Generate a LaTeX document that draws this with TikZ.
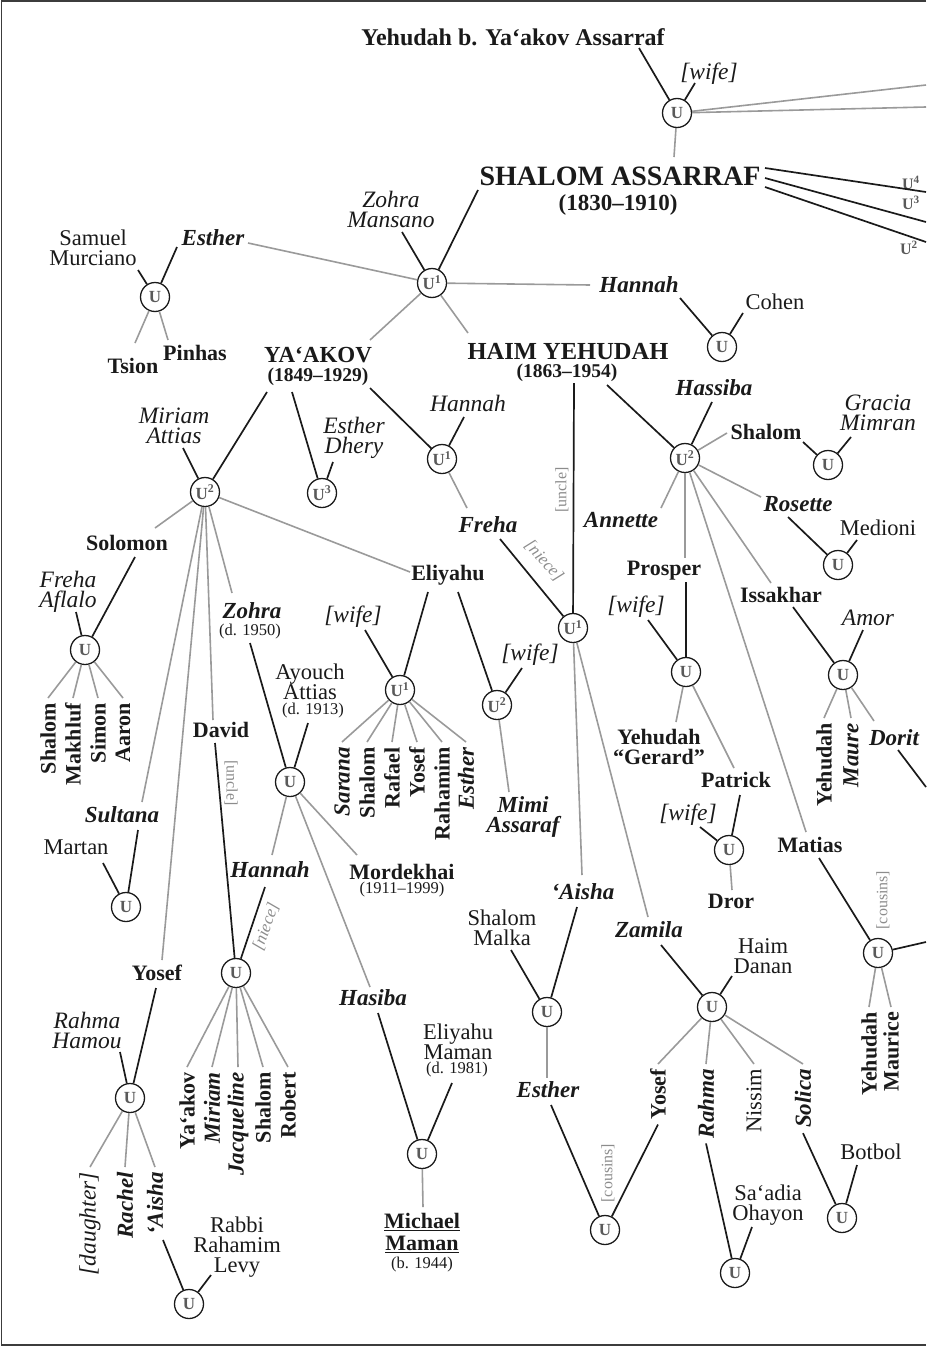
\documentclass[tikz,border=0pt]{standalone}
\usepackage{fontspec}
\setmainfont{Liberation Serif}
\usetikzlibrary{calc}
\definecolor{lgray}{HTML}{9A9A9A}
\definecolor{ugray}{HTML}{5A5A5A}
\definecolor{ink}{HTML}{1A1A1A}
\definecolor{lbl}{HTML}{8C8C8C}
\definecolor{frm}{HTML}{3C3C3C}
\begin{document}
\begin{tikzpicture}[x=1pt,y=-1pt,
 uni/.style={circle,draw=ink,fill=white,line width=1.3pt,minimum size=29pt,inner sep=0pt,text=ugray,font=\bfseries\fontsize{17}{17}\selectfont},
 tnr/.style={inner sep=2pt,align=center,text=ink,font=\fontsize{22.5}{20}\selectfont},
 tnb/.style={tnr,font=\bfseries\fontsize{22}{20}\selectfont},
 tni/.style={tnr,font=\itshape\fontsize{23.5}{20}\selectfont},
 tnbi/.style={tnr,font=\bfseries\itshape\fontsize{23}{20}\selectfont},
 tns/.style={tnr,font=\fontsize{16.5}{16}\selectfont},
 htop/.style={tnr,font=\bfseries\fontsize{24}{24}\selectfont},
 hbig/.style={tnr,font=\bfseries\fontsize{28}{28}\selectfont},
 hmid/.style={tnr,font=\bfseries\fontsize{23}{23}\selectfont},
 hdate/.style={tnr,font=\bfseries\fontsize{19.5}{19.5}\selectfont},
 vrt/.style={rotate=90,anchor=east,inner sep=5pt},
 spl/.style={draw=ink,line width=1.7pt},
 chl/.style={draw=lgray,line width=1.6pt},
 lab/.style={inner sep=1pt,text=lbl,font=\fontsize{16}{16}\selectfont},
 labi/.style={lab,font=\itshape\fontsize{17}{17}\selectfont},
 ulab/.style={inner sep=0pt,text=ugray,font=\bfseries\fontsize{16}{16}\selectfont},
]
\useasboundingbox (0,0) rectangle (926,1346);
\draw[frm,line width=1.6pt] (926,1) -- (1.5,1) -- (1.5,1345) -- (926,1345);

% ---------- top ----------
\node[htop] (yeh) at (513,37) {Yehudah b. Ya‘akov Assarraf};
\node[uni] (uT) at (677,113) {U};
\node[tni] (wT) at (709,74) {[wife]};
\node[hbig] (sh) at (620,176) {SHALOM ASSARRAF};
\node[hmid] (shd) at (618,205) {(1830–1910)};
\coordinate (eA) at (926,85);
\coordinate (eB) at (926,107);
\coordinate (e4) at (926,192);
\coordinate (e3) at (926,222);
\coordinate (e2) at (926,242);
\node[ulab] (l4) at (911,183) {U\textsuperscript{4}};
\node[ulab] (l3) at (911,203) {U\textsuperscript{3}};
\node[ulab] (l2) at (909,248) {U\textsuperscript{2}};
\draw[spl] ($(yeh)+(126,11)$) -- (uT);
\draw[spl] ($(wT)+(-14,9)$) -- (uT);
\draw[chl] (uT) -- (eA);
\draw[chl] (uT) -- (eB);
\draw[chl] (uT) -- ($(sh)+(54,-19)$);
\draw[spl] ($(sh)+(145,-8)$) -- (e4);
\draw[spl] ($(sh)+(145,2)$) -- (e3);
\draw[spl] ($(sh)+(145,11)$) -- (e2);

% ---------- Shalom's first union ----------
\node[tni] (zm) at (391,209) {Zohra\\Mansano};
\node[uni] (u1) at (432,283) {U\textsuperscript{1}};
\draw[spl] ($(zm)+(11,23)$) -- (u1);
\draw[spl] ($(sh)+(-142,14)$) -- (u1);
\node[tnbi] (hanR) at (639,285) {Hannah};
\draw[chl] (u1) -- ($(hanR)+(-49,0)$);
\node[tnbi] (estL) at (213,238) {Esther};
\draw[chl] (u1) -- ($(estL)+(35,5)$);
\node[hmid] (yak) at (318,355) {YA‘AKOV};
\node[hdate] (yakd) at (318,377) {(1849–1929)};
\draw[chl] (u1) -- ($(yak)+(52,-15)$);
\node[hmid,font=\bfseries\fontsize{24.5}{24.5}\selectfont] (haim) at (568,352) {HAIM YEHUDAH};
\node[hdate] (haimd) at (567,373) {(1863–1954)};
\draw[chl] (u1) -- ($(haim)+(-100,-19)$);

\node[uni] (uC) at (722,347) {U};
\draw[spl] ($(hanR)+(41,13)$) -- (uC);
\node[tnr] (cohen) at (775,302) {Cohen};
\draw[spl] ($(cohen)+(-32,11)$) -- (uC);

\node[uni] (uSM) at (155,297) {U};
\draw[spl] ($(estL)+(-36,9)$) -- (uSM);
\node[tnr] (sam) at (93,248) {Samuel\\Murciano};
\draw[spl] ($(sam)+(45,22)$) -- (uSM);
\node[tnb] (tsion) at (133,366) {Tsion};
\node[tnb] (pinhas) at (195,353) {Pinhas};
\draw[chl] (uSM) -- ($(tsion)+(2,-23)$);
\draw[chl] (uSM) -- ($(pinhas)+(-27,-13)$);

% ---------- Ya'akov ----------
\node[uni] (u2M) at (205,492) {U\textsuperscript{2}};
\draw[spl] ($(yakd)+(-51,15)$) -- (u2M);
\node[tni] (mirA) at (174,426) {Miriam\\Attias};
\draw[spl] ($(mirA)+(9,22)$) -- (u2M);
\node[uni] (u3) at (322,493) {U\textsuperscript{3}};
\draw[spl] ($(yakd)+(-26,15)$) -- (u3);
\node[tni] (estD) at (354,438) {Esther\\Dhery};
\draw[spl] ($(estD)+(-21,24)$) -- (u3);
\node[uni] (u1H) at (442,459) {U\textsuperscript{1}};
\draw[spl] ($(yakd)+(52,11)$) -- (u1H);
\node[tni] (hanH) at (468,403) {Hannah};
\draw[spl] ($(hanH)+(-4,14)$) -- (u1H);
\node[tnbi] (freha) at (488,525) {Freha};
\draw[chl] (u1H) -- ($(freha)+(-21,-17)$);
\node[uni] (u1F) at (573,628) {U\textsuperscript{1}};
\draw[spl] ($(freha)+(12,14)$) -- (u1F);
\node[labi,rotate=-48] (nieceF) at (544,561) {[niece]};
\draw[spl] ($(haimd)+(7,10)$) -- (u1F);
\node[lab,rotate=90] (uncleH) at (562,490) {[uncle]};

% ---------- Haim Yehudah & Hassiba ----------
\node[uni] (u2H) at (685,458) {U\textsuperscript{2}};
\draw[spl] ($(haimd)+(40,12)$) -- (u2H);
\node[tnbi] (hass) at (714,388) {Hassiba};
\draw[spl] ($(hass)+(-2,14)$) -- (u2H);
\node[tnb] (shH) at (766,432) {Shalom};
\draw[chl] (u2H) -- ($(shH)+(-39,1)$);
\node[uni] (uG) at (828,465) {U};
\draw[spl] ($(shH)+(37,10)$) -- (uG);
\node[tni] (grac) at (878,413) {Gracia\\Mimran};
\draw[spl] ($(grac)+(-27,24)$) -- (uG);
\node[tnbi] (ros) at (798,504) {Rosette};
\draw[chl] (u2H) -- ($(ros)+(-37,-7)$);
\node[uni] (uMe) at (838,565) {U};
\draw[spl] ($(ros)+(-10,13)$) -- (uMe);
\node[tnr] (med) at (878,528) {Medioni};
\draw[spl] ($(med)+(-21,12)$) -- (uMe);
\node[tnbi] (ann) at (621,520) {Annette};
\draw[chl] (u2H) -- ($(ann)+(40,-12)$);
\node[tnb] (pros) at (664,571) {Prosper};
\draw[chl] (u2H) -- ($(pros)+(21,-13)$);
\node[uni] (uP) at (686,672) {U};
\draw[spl] ($(pros)+(22,11)$) -- (uP);
\node[tni] (wP) at (636,607) {[wife]};
\draw[spl] ($(wP)+(12,13)$) -- (uP);
\node[tnb] (iss) at (781,595) {Issakhar};
\draw[chl] (u2H) -- ($(iss)+(-10,-12)$);
\node[uni] (uI) at (843,675) {U};
\draw[spl] ($(iss)+(12,12)$) -- (uI);
\node[tni] (amor) at (868,618) {Amor};
\draw[spl] ($(amor)+(-5,12)$) -- (uI);
\node[tnb] (mat) at (810,845) {Matias};
\draw[chl] (u2H) -- ($(mat)+(-4,-13)$);

\node[tnb] (ger) at (659,747) {Yehudah\\“Gerard”};
\draw[chl] (uP) -- ($(ger)+(17,-25)$);
\node[tnb] (pat) at (736,780) {Patrick};
\draw[chl] (uP) -- ($(pat)+(-2,-12)$);
\node[uni] (uPa) at (729,850) {U};
\draw[spl] ($(pat)+(4,15)$) -- (uPa);
\node[tni] (wPa) at (688,815) {[wife]};
\draw[spl] ($(wPa)+(12,12)$) -- (uPa);
\node[tnb] (dror) at (731,901) {Dror};
\draw[chl] (uPa) -- ($(dror)+(1,-11)$);

\node[uni] (uMa) at (878,953) {U};
\draw[spl] ($(mat)+(9,13)$) -- (uMa);
\node[lab,rotate=90] (cousM) at (883,900) {[cousins]};
\coordinate (eMa) at (926,942);
\draw[spl] (uMa) -- (eMa);
\node[tnb,vrt] (yehMa) at (869,1007) {Yehudah};
\node[tnb,vrt] (mauMa) at (891,1007) {Maurice};
\draw[chl] (uMa) -- (yehMa.east);
\draw[chl] (uMa) -- (mauMa.east);

\node[tnb,vrt] (yehI) at (824,718) {Yehudah};
\node[tnbi,vrt] (maure) at (851,718) {Maure};
\node[tnbi] (dorit) at (894,738) {Dorit};
\draw[chl] (uI) -- (yehI.east);
\draw[chl] (uI) -- (maure.east);
\draw[chl] (uI) -- ($(dorit)+(-20,-17)$);
\coordinate (eDo) at (926,787);
\draw[spl] ($(dorit)+(4,12)$) -- (eDo);

% ---------- Miriam Attias' children ----------
\node[tnb] (solo) at (127,543) {Solomon};
\draw[chl] (u2M) -- ($(solo)+(28,-15)$);
\node[uni] (uFA) at (85,650) {U};
\draw[spl] ($(solo)+(8,14)$) -- (uFA);
\node[tni] (frA) at (68,592) {Freha\\Aflalo};
\draw[spl] ($(frA)+(8,20)$) -- (uFA);
\node[tnb,vrt] (shFA) at (48,698) {Shalom};
\node[tnb,vrt] (makh) at (73,698) {Makhluf};
\node[tnb,vrt] (simon) at (98,698) {Simon};
\node[tnb,vrt] (aaron) at (123,698) {Aaron};
\draw[chl] (uFA) -- (shFA.east);
\draw[chl] (uFA) -- (makh.east);
\draw[chl] (uFA) -- (simon.east);
\draw[chl] (uFA) -- (aaron.east);

\node[tnb] (eli) at (448,575) {Eliyahu};
\draw[chl] (u2M) -- ($(eli)+(-38,-3)$);
\node[tnbi] (zoh) at (252,611) {Zohra};
\node[tns] (zohd) at (250,632) {(d. 1950)};
\draw[chl] (u2M) -- ($(zoh)+(-20,-18)$);
\node[tnb] (david) at (221,730) {David};
\draw[chl] (u2M) -- ($(david)+(-8,-10)$);
\node[tnb] (yosef) at (157,973) {Yosef};
\draw[chl] (u2M) -- ($(yosef)+(5,-13)$);
\node[tnbi] (sult) at (122,815) {Sultana};
\draw[chl] (u2M) -- ($(sult)+(20,-13)$);

\node[uni] (uSu) at (126,907) {U};
\draw[spl] ($(sult)+(16,15)$) -- (uSu);
\node[tnr] (mart) at (76,847) {Martan};
\draw[spl] ($(mart)+(27,16)$) -- (uSu);

\node[uni] (uY) at (130,1098) {U};
\draw[spl] ($(yosef)+(-1,15)$) -- (uY);
\node[tni] (rahH) at (87,1030) {Rahma\\Hamou};
\draw[spl] ($(rahH)+(33,22)$) -- (uY);
\node[tni,vrt] (daug) at (90,1167) {[daughter]};
\node[tnbi,vrt] (rach) at (125,1167) {Rachel};
\node[tnbi,vrt] (aisY) at (155,1167) {‘Aisha};
\draw[chl] (uY) -- (daug.east);
\draw[chl] (uY) -- (rach.east);
\draw[chl] (uY) -- (aisY.east);
\node[uni] (uAL) at (189,1304) {U};
\draw[spl] ($(aisY.west)+(8,0)$) -- (uAL);
\node[tnr] (rabbi) at (237,1247) {Rabbi\\Rahamim\\Levy};
\draw[spl] ($(rabbi)+(-26,28)$) -- (uAL);

\node[uni] (uD) at (236,973) {U};
\draw[spl] ($(david)+(-6,13)$) -- (uD);
\node[lab,rotate=-90] (uncD) at (231,783) {[uncle]};
\node[tnbi] (hanD) at (270,870) {Hannah};
\draw[spl] ($(hanD)+(-5,17)$) -- (uD);
\node[labi,rotate=70] (nieD) at (266,927) {[niece]};
\node[tnb,vrt] (yaD) at (187,1067) {Ya‘akov};
\node[tnbi,vrt] (mirD) at (212,1067) {Miriam};
\node[tnbi,vrt] (jac) at (238,1067) {Jacqueline};
\node[tnb,vrt] (shD) at (263,1067) {Shalom};
\node[tnb,vrt] (rob) at (288,1067) {Robert};
\draw[chl] (uD) -- (yaD.east);
\draw[chl] (uD) -- (mirD.east);
\draw[chl] (uD) -- (jac.east);
\draw[chl] (uD) -- (shD.east);
\draw[chl] (uD) -- (rob.east);

\node[uni] (uZ) at (290,782) {U};
\draw[spl] ($(zohd)+(0,11)$) -- (uZ);
\node[tnr] (ayo) at (310,682) {Ayouch\\Attias};
\node[tns] (ayod) at (313,711) {(d. 1913)};
\draw[spl] ($(ayod)+(-5,12)$) -- (uZ);
\draw[chl] (uZ) -- ($(hanD)+(2,-15)$);
\node[tnb] (mord) at (402,872) {Mordekhai};
\node[tns] (mordd) at (402,890) {(1911–1999)};
\draw[chl] (uZ) -- ($(mord)+(-45,-17)$);
\node[tnbi] (hasi) at (373,998) {Hasiba};
\draw[chl] (uZ) -- ($(hasi)+(-3,-11)$);

\node[uni] (uMM) at (422,1154) {U};
\draw[spl] ($(hasi)+(5,15)$) -- (uMM);
\node[tnr] (elm) at (458,1042) {Eliyahu\\Maman};
\node[tns] (elmd) at (457,1070) {(d. 1981)};
\draw[spl] ($(elmd)+(-5,13)$) -- (uMM);
\node[tnb,font=\bfseries\fontsize{22}{22}\selectfont] (mich) at (422,1233) {\underline{Michael}\\\underline{Maman}};
\node[tns] (michd) at (422,1265) {(b. 1944)};
\draw[chl] (uMM) -- ($(mich)+(1,-26)$);

% ---------- Eliyahu ----------
\node[uni] (u1E) at (400,690) {U\textsuperscript{1}};
\draw[spl] ($(eli)+(-20,17)$) -- (u1E);
\node[tni] (wE) at (353,617) {[wife]};
\draw[spl] ($(wE)+(12,13)$) -- (u1E);
\node[tnbi,vrt] (sara) at (342,742) {Sarana};
\node[tnb,vrt] (shE) at (367,742) {Shalom};
\node[tnb,vrt] (raf) at (392,742) {Rafael};
\node[tnb,vrt] (yosE) at (417,742) {Yosef};
\node[tnb,vrt] (rahE) at (442,742) {Rahamim};
\node[tnbi,vrt] (estE) at (466,742) {Esther};
\draw[chl] (u1E) -- (sara.east);
\draw[chl] (u1E) -- (shE.east);
\draw[chl] (u1E) -- (raf.east);
\draw[chl] (u1E) -- (yosE.east);
\draw[chl] (u1E) -- (rahE.east);
\draw[chl] (u1E) -- (estE.east);
\node[uni] (u2E) at (497,705) {U\textsuperscript{2}};
\draw[spl] ($(eli)+(10,17)$) -- (u2E);
\node[tni] (wE2) at (530,655) {[wife]};
\draw[spl] ($(wE2)+(-8,13)$) -- (u2E);
\node[tnbi] (mimi) at (523,817) {Mimi\\Assaraf};
\draw[chl] (u2E) -- ($(mimi)+(-14,-25)$);

% ---------- Freha & Haim Yehudah ----------
\node[tnbi] (ais) at (583,892) {‘Aisha};
\draw[chl] (u1F) -- ($(ais)+(-1,-17)$);
\node[tnbi] (zam) at (649,930) {Zamila};
\draw[chl] (u1F) -- ($(zam)+(-1,-13)$);
\node[uni] (uA) at (547,1012) {U};
\draw[spl] ($(ais)+(-6,15)$) -- (uA);
\node[tnr] (sma) at (502,928) {Shalom\\Malka};
\draw[spl] ($(sma)+(9,22)$) -- (uA);
\node[tnbi] (estA) at (548,1090) {Esther};
\draw[chl] (uA) -- ($(estA)+(-1,-12)$);
\node[uni] (uE) at (605,1230) {U};
\draw[spl] ($(estA)+(3,15)$) -- (uE);
\node[lab,rotate=90] (cousE) at (608,1173) {[cousins]};
\node[uni] (uZa) at (712,1007) {U};
\draw[spl] ($(zam)+(12,15)$) -- (uZa);
\node[tnr] (hd) at (763,956) {Haim\\Danan};
\draw[spl] ($(hd)+(-31,20)$) -- (uZa);
\node[tnb,vrt] (yosZ) at (658,1064) {Yosef};
\node[tnbi,vrt] (rahZ) at (706,1064) {Rahma};
\node[tnr,vrt] (nis) at (754,1064) {Nissim};
\node[tnbi,vrt] (sol) at (803,1064) {Solica};
\draw[chl] (uZa) -- (yosZ.east);
\draw[chl] (uZa) -- (rahZ.east);
\draw[chl] (uZa) -- (nis.east);
\draw[chl] (uZa) -- (sol.east);
\draw[spl] (yosZ.west) -- (uE);
\node[uni] (uSO) at (735,1273) {U};
\draw[spl] (rahZ.west) -- (uSO);
\node[tnr] (saa) at (768,1205) {Sa‘adia\\Ohayon};
\draw[spl] ($(saa)+(-16,22)$) -- (uSO);
\node[uni] (uB) at (842,1218) {U};
\draw[spl] (sol.west) -- (uB);
\node[tnr] (bot) at (871,1152) {Botbol};
\draw[spl] ($(bot)+(-14,13)$) -- (uB);
\end{tikzpicture}
\end{document}
